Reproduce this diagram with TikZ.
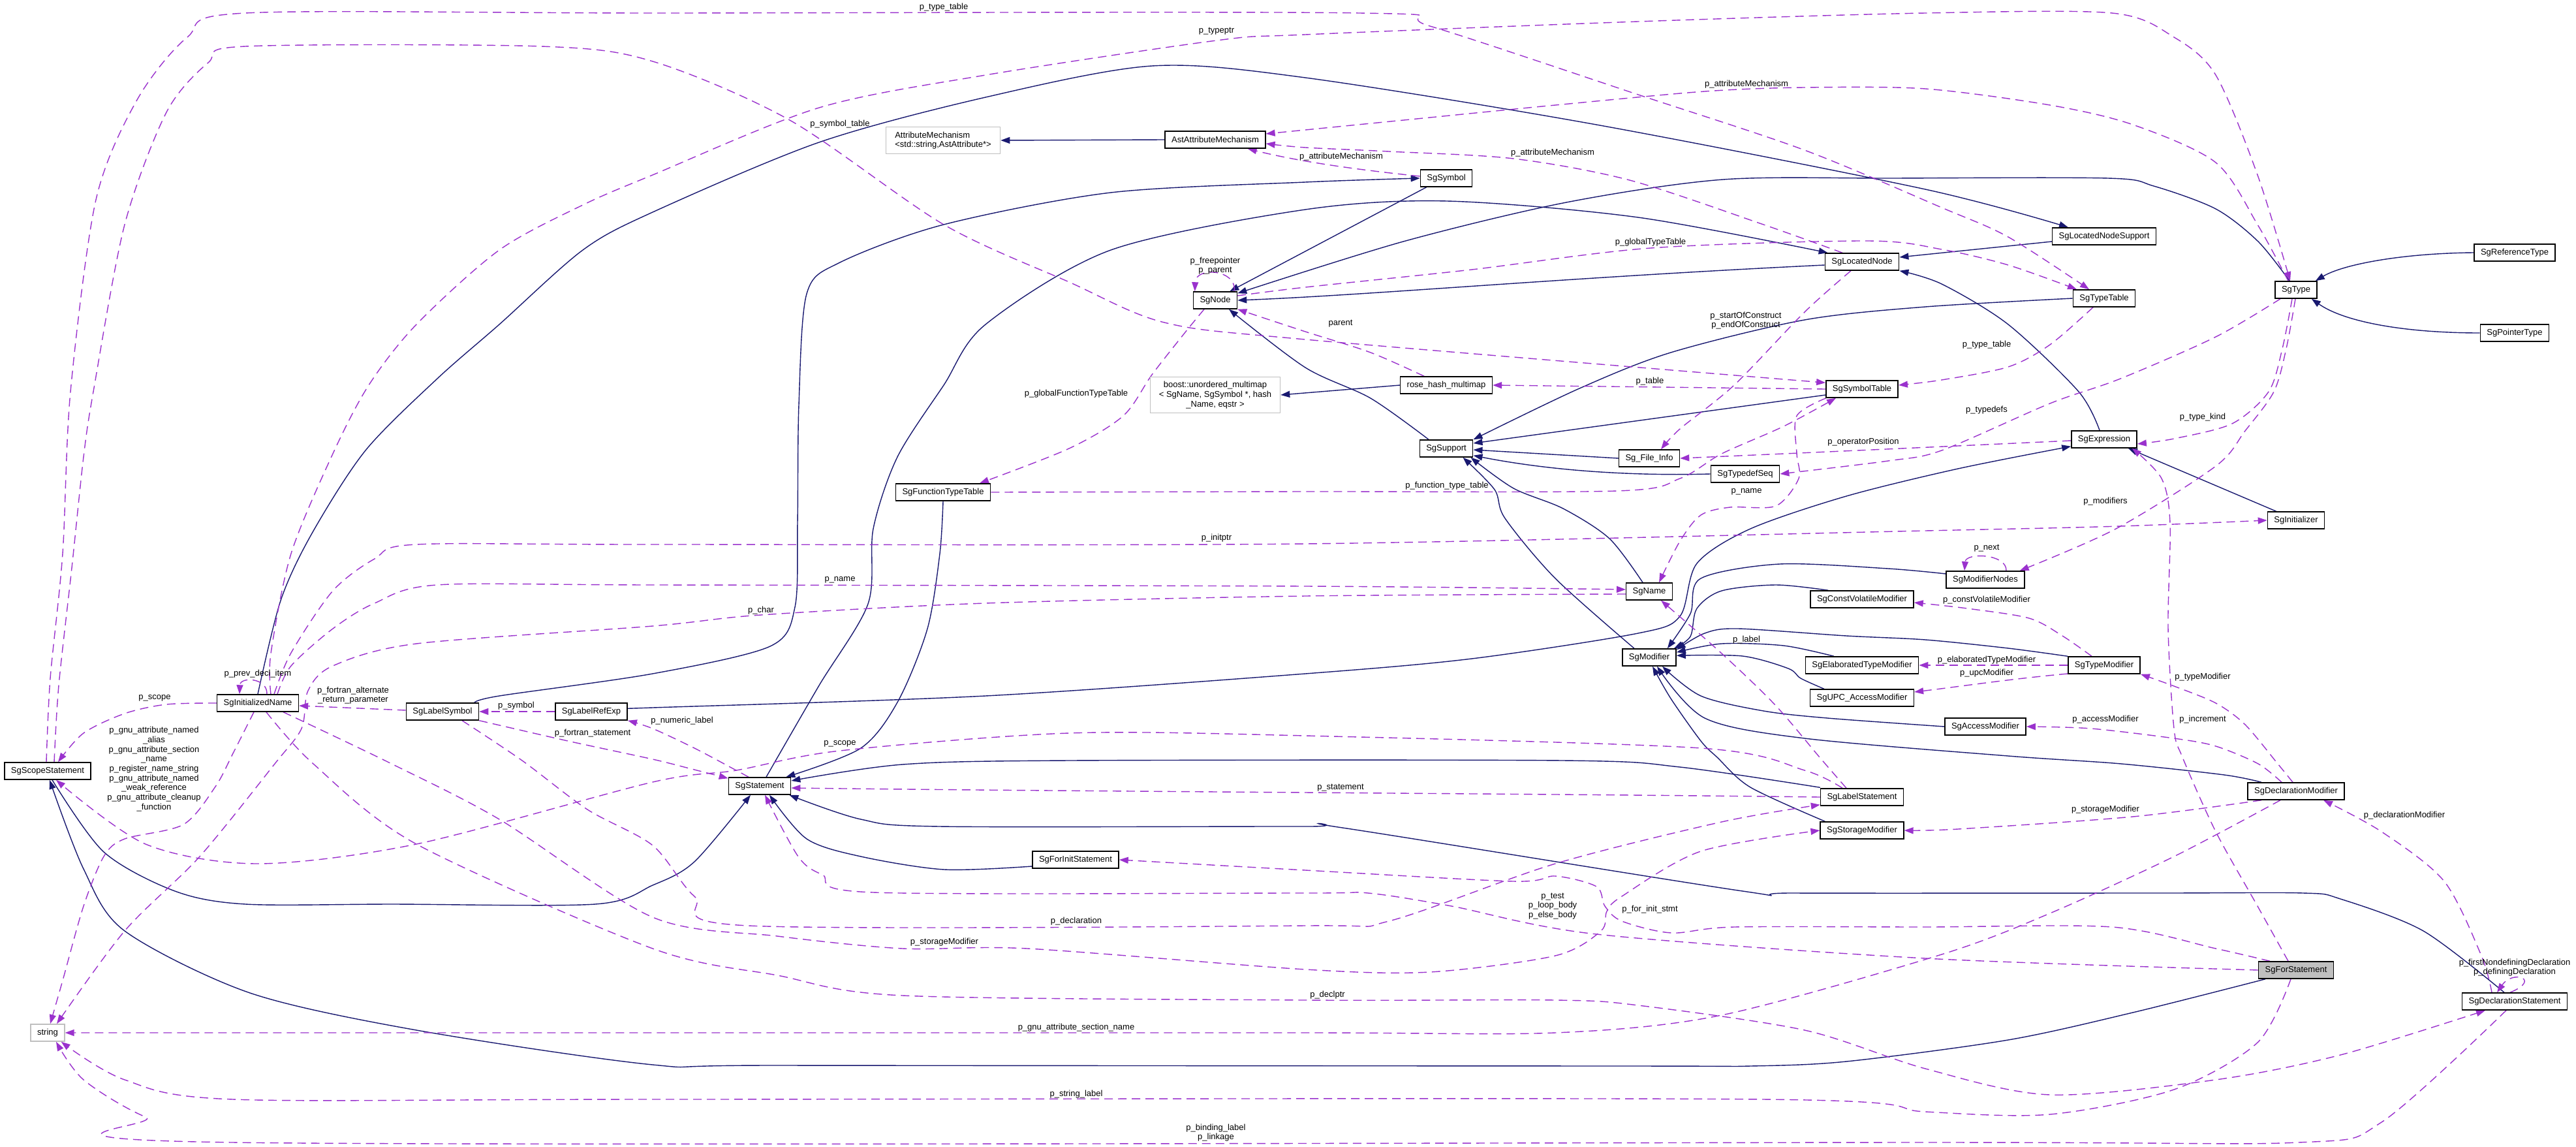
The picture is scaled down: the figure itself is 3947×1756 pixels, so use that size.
\documentclass[tikz,border=0pt]{standalone}
\usepackage{fontspec}
\setmainfont{Liberation Sans}
\usetikzlibrary{arrows.meta}
\definecolor{inhcol}{HTML}{191970}
\definecolor{depcol}{HTML}{9A32CD}
\definecolor{greyb}{HTML}{BFBFBF}
\newcommand\lbfont{\fontsize{13}{14.7}\selectfont}
\pgfdeclarelayer{bg}
\pgfsetlayers{bg,main}
\begin{document}
\begin{tikzpicture}[x=1pt,y=-1pt,
 cls/.style={draw=black, line width=1.5pt, fill=white, minimum height=26pt, inner xsep=10pt, inner ysep=2pt, font=\lbfont},
 ext/.style={cls, draw=greyb},
 lbl/.style={font=\lbfont, align=center, inner sep=0pt},
 inh/.style={draw=inhcol, line width=1.4pt, -{Triangle[length=14pt,width=10pt]}},
 dep/.style={draw=depcol, line width=1.4pt, dash pattern=on 13pt off 8pt, -{Triangle[length=14pt,width=10pt]}}]
\useasboundingbox (0,0) rectangle (3947,1756);
% ---------- nodes ----------
\node[ext, align=left, minimum height=41pt, minimum width=175pt] (attmech) at (1445,215) {AttributeMechanism\\<std::string,AstAttribute*>};
\node[cls] (astatt) at (1862,214) {AstAttributeMechanism};
\node[cls] (sgsymbol) at (2216,273) {SgSymbol};
\node[cls] (sgnode) at (1862,460) {SgNode};
\node[cls] (sglocated) at (2853,401) {SgLocatedNode};
\node[cls] (sglns) at (3224,362) {SgLocatedNodeSupport};
\node[cls] (sgtypetable) at (3224,457) {SgTypeTable};
\node[cls] (sgtype) at (3518,444) {SgType};
\node[cls] (sgreftype) at (3853,387) {SgReferenceType};
\node[cls] (sgptrtype) at (3853,510) {SgPointerType};
\node[ext, align=center, minimum height=55pt, minimum width=199pt, inner ysep=1pt] (boost) at (1862,605) {boost::unordered\_multimap\\< SgName, SgSymbol *, hash\\\_Name, eqstr >};
\node[cls] (rosehash) at (2216,590) {rose\_hash\_multimap};
\node[cls] (sgsymtab) at (2853,596) {SgSymbolTable};
\node[cls] (sgsupport) at (2216,687) {SgSupport};
\node[cls] (sgfileinfo) at (2527,702) {Sg\_File\_Info};
\node[cls] (sgtypedefseq) at (2674,726) {SgTypedefSeq};
\node[cls] (sgexpr) at (3224,673) {SgExpression};
\node[cls] (sgfunctt) at (1445,754) {SgFunctionTypeTable};
\node[cls] (sginitializer) at (3518,797) {SgInitializer};
\node[cls] (sgname) at (2527,906) {SgName};
\node[cls] (sgmodnodes) at (3042,888) {SgModifierNodes};
\node[cls] (sgcvmod) at (2853,918) {SgConstVolatileModifier};
\node[cls] (sgmodifier) at (2527,1007) {SgModifier};
\node[cls] (sgelabmod) at (2853,1019) {SgElaboratedTypeModifier};
\node[cls] (sgtypemod) at (3224,1019) {SgTypeModifier};
\node[cls] (sgupcmod) at (2853,1069) {SgUPC\_AccessModifier};
\node[cls] (sgaccessmod) at (3042,1113) {SgAccessModifier};
\node[cls] (sginitname) at (395,1077) {SgInitializedName};
\node[cls] (sglabelsym) at (678,1090) {SgLabelSymbol};
\node[cls] (sglabelref) at (906,1090) {SgLabelRefExp};
\node[cls] (sgscope) at (73,1181) {SgScopeStatement};
\node[cls] (sgstatement) at (1164,1204) {SgStatement};
\node[cls] (sglabelstmt) at (2853,1221) {SgLabelStatement};
\node[cls] (sgdeclmod) at (3518,1212) {SgDeclarationModifier};
\node[cls] (sgstoragemod) at (2853,1272) {SgStorageModifier};
\node[cls] (sgforinit) at (1648,1317) {SgForInitStatement};
\node[cls, fill=greyb] (sgfor) at (3518,1486) {SgForStatement};
\node[cls] (sgdeclstmt) at (3853,1534) {SgDeclarationStatement};
\node[ext] (string) at (73,1582) {string};
% ---------- labels ----------
\node[lbl] (l01) at (1446,11) {p\_type\_table};
\node[lbl] (l02) at (1287,190) {p\_symbol\_table};
\node[lbl] (l03) at (1864,48) {p\_typeptr};
\node[lbl] (l04) at (2676,129) {p\_attributeMechanism};
\node[lbl] (l05) at (2055,240) {p\_attributeMechanism};
\node[lbl] (l06) at (2379,234) {p\_attributeMechanism};
\node[lbl] (l07) at (1862,407) {p\_freepointer\\p\_parent};
\node[lbl] (l08) at (2529,371) {p\_globalTypeTable};
\node[lbl] (l09) at (1649,603) {p\_globalFunctionTypeTable};
\node[lbl] (l10) at (2054,496) {parent};
\node[lbl] (l11) at (2528,584) {p\_table};
\node[lbl] (l12) at (2675,491) {p\_startOfConstruct\\p\_endOfConstruct};
\node[lbl] (l13) at (3044,528) {p\_type\_table};
\node[lbl] (l14) at (3044,628) {p\_typedefs};
\node[lbl] (l15) at (2855,677) {p\_operatorPosition};
\node[lbl] (l16) at (3375,639) {p\_type\_kind};
\node[lbl] (l17) at (3226,768) {p\_modifiers};
\node[lbl] (l18) at (3044,840) {p\_next};
\node[lbl] (l19) at (2217,744) {p\_function\_type\_table};
\node[lbl] (l20) at (2676,753) {p\_name};
\node[lbl] (l21) at (1864,824) {p\_initptr};
\node[lbl] (l22) at (1287,888) {p\_name};
\node[lbl] (l23) at (1166,935) {p\_char};
\node[lbl] (l24) at (2676,980) {p\_label};
\node[lbl] (l25) at (3044,919) {p\_constVolatileModifier};
\node[lbl] (l26) at (3044,1011) {p\_elaboratedTypeModifier};
\node[lbl] (l27) at (3044,1031) {p\_upcModifier};
\node[lbl] (l28) at (3375,1037) {p\_typeModifier};
\node[lbl] (l29) at (3226,1102) {p\_accessModifier};
\node[lbl] (l30) at (3375,1102) {p\_increment};
\node[lbl] (l31) at (395,1032) {p\_prev\_decl\_item};
\node[lbl] (l32) at (237,1069) {p\_scope};
\node[lbl] (l33) at (236,1178) {p\_gnu\_attribute\_named\\\_alias\\p\_gnu\_attribute\_section\\\_name\\p\_register\_name\_string\\p\_gnu\_attribute\_named\\\_weak\_reference\\p\_gnu\_attribute\_cleanup\\\_function};
\node[lbl] (l34) at (541,1065) {p\_fortran\_alternate\\\_return\_parameter};
\node[lbl] (l35) at (791,1081) {p\_symbol};
\node[lbl] (l36) at (908,1123) {p\_fortran\_statement};
\node[lbl] (l37) at (1045,1104) {p\_numeric\_label};
\node[lbl] (l38) at (1287,1139) {p\_scope};
\node[lbl] (l39) at (2054,1207) {p\_statement};
\node[lbl] (l40) at (2528,1393) {p\_for\_init\_stmt};
\node[lbl] (l41) at (2379,1388) {p\_test\\p\_loop\_body\\p\_else\_body};
\node[lbl] (l42) at (1649,1411) {p\_declaration};
\node[lbl] (l43) at (1447,1443) {p\_storageModifier};
\node[lbl] (l44) at (3226,1240) {p\_storageModifier};
\node[lbl] (l45) at (2034,1524) {p\_declptr};
\node[lbl] (l46) at (1649,1574) {p\_gnu\_attribute\_section\_name};
\node[lbl] (l47) at (1649,1676) {p\_string\_label};
\node[lbl] (l48) at (1863,1735) {p\_binding\_label\\p\_linkage};
\node[lbl] (l49) at (3684,1249) {p\_declarationModifier};
\node[lbl] (l50) at (3853,1482) {p\_firstNondefiningDeclaration\\p\_definingDeclaration};
\begin{pgfonlayer}{bg}
% ---------- inheritance ----------
\draw[inh] (astatt.west) -- (attmech.east);
\draw[inh] ([xshift=10pt]sgsymbol.south west) -- ([xshift=-12pt]sgnode.north east);
\draw[inh] ([yshift=-5pt]sglocated.west) .. controls (2400,425) and (2100,452) .. (sgnode.east);
\draw[inh] plot[smooth] coordinates {([xshift=-10pt]sgtype.north) (3460,370) (3395,320) (3300,285) (3230,273) (2900,273) (2640,275) (2400,310) (2150,370) ([yshift=-3pt]sgnode.north east)};
\draw[inh] plot[smooth] coordinates {([xshift=-27pt]sgsupport.north) (2100,610) (2000,563) ([xshift=21pt]sgnode.south)};
\draw[inh] ([yshift=-8pt]sglns.west) -- ([yshift=7pt]sglocated.east);
\draw[inh] plot[smooth] coordinates {(sginitname.north) (430,920) (478,817) (560,690) (670,580) (765,497) (893,383) (1000,325) (1255,218) (1510,149) (1765,101) (2000,119) (2446,191) (2950,290) ([xshift=-55pt]sglns.north)};
\draw[inh] plot[smooth] coordinates {([xshift=49pt]sglabelsym.north) (765,1066) (1000,1032) (1180,990) (1218,930) (1222,800) (1224,620) (1236,450) (1287,402) (1446,344) (1702,295) (2000,279) (sgsymbol.west)};
\draw[inh] plot[smooth] coordinates {([xshift=10pt]sgstatement.north) (1255,1050) (1330,925) (1338,810) (1375,700) (1446,590) (1510,497) (1702,383) (2000,321) (2217,308) (2510,333) ([xshift=5pt]sglocated.north west)};
\draw[inh] plot[smooth] coordinates {([xshift=-7pt]sgexpr.north) (3185,600) (3077,497) (2975,435) (sglocated.south east)};
\draw[inh] ([xshift=14pt]sginitializer.north west) -- ([xshift=-14pt]sgexpr.south east);
\draw[inh] (sgreftype.west) .. controls (3680,388) and (3590,405) .. ([xshift=-3pt]sgtype.north east);
\draw[inh] (sgptrtype.west) .. controls (3680,510) and (3590,492) .. ([xshift=-9pt]sgtype.south east);
\draw[inh] (rosehash.west) -- (boost.east);
\draw[inh] ([yshift=-9pt]sgsymtab.west) -- ([yshift=8pt]sgsupport.east);
\draw[inh] (sgfileinfo.west) -- ([yshift=-2pt]sgsupport.east);
\draw[inh] (sgtypedefseq.west) .. controls (2470,730) and (2350,716) .. ([yshift=3pt]sgsupport.south east);
\draw[inh] plot[smooth] coordinates {([xshift=-10pt]sgname.north) (2466,825) (2395,779) (2319,748) ([xshift=-4pt]sgsupport.south east)};
\draw[inh] plot[smooth] coordinates {([xshift=-23pt]sgmodifier.north) (2383,886) (2306,794) (2290,750) ([xshift=-16pt]sgsupport.south east)};
\draw[inh] plot[smooth] coordinates {(sgtypetable.west) (2950,470) (2765,490) (2560,540) (2420,595) (sgsupport.north east)};
\draw[inh] plot[smooth] coordinates {(sgfunctt.south) (1440,848) (1421,963) (1376,1074) (1319,1146) ([xshift=-8pt]sgstatement.north east)};
\draw[inh] plot[smooth] coordinates {([xshift=7pt]sgscope.south) (159,1305) (268,1365) (376,1385) (600,1385) (912,1385) (1000,1356) (1064,1320) ([xshift=-14pt]sgstatement.south)};
\draw[inh] plot[smooth] coordinates {([xshift=-47pt]sgfor.south) (3268,1551) (3077,1593) (2829,1626) (2682,1633) (2500,1633) (1200,1632) (1000,1631) (638,1578) (383,1521) (191,1426) (128,1331) ([xshift=3pt]sgscope.south)};
\draw[inh] plot[smooth] coordinates {([xshift=-16pt]sgdeclstmt.north) (3713,1426) (3586,1377) (3529,1368) (3300,1368) (2750,1368) (2670,1365) (2057,1268) (2000,1266) (1440,1266) (1319,1255) ([xshift=-3pt]sgstatement.south east)};
\draw[inh] plot[smooth] coordinates {([yshift=1pt]sglabelstmt.north west) (2574,1175) (2395,1165) (1638,1165) (1383,1171) ([yshift=8pt]sgstatement.east)};
\draw[inh] plot[smooth] coordinates {([yshift=-10pt]sgforinit.west) (1447,1332) (1319,1312) (1236,1285) ([xshift=15pt]sgstatement.south)};
\draw[inh] plot[smooth] coordinates {([yshift=5pt]sglabelref.east) (1000,1084) (1510,1066) (2000,1032) (2255,1009) (2510,970) (2574,944) (2600,863) (2682,810) (2829,760) (3000,718) ([yshift=3pt]sgexpr.south west)};
\draw[inh] plot[smooth] coordinates {([yshift=9pt]sgmodnodes.west) (2893,871) (2727,864) (2606,886) (2590,940) ([xshift=-14pt]sgmodifier.north east)};
\draw[inh] plot[smooth] coordinates {([xshift=28pt]sgcvmod.north west) (2721,896) (2638,905) (2600,932) (2590,975) ([xshift=-4pt]sgmodifier.north east)};
\draw[inh] plot[smooth] coordinates {(sgtypemod.north west) (3077,993) (2950,980) (2829,974) (2663,963) (2612,970) ([yshift=-2pt]sgmodifier.north east)};
\draw[inh] plot[smooth] coordinates {([xshift=-43pt]sgelabmod.north) (2733,989) (2638,986) ([yshift=-6pt]sgmodifier.north east)};
\draw[inh] plot[smooth] coordinates {([xshift=22pt]sgupcmod.north west) (2759,1039) (2740,1024) (2670,1005) ([yshift=-11pt]sgmodifier.north east)};
\draw[inh] plot[smooth] coordinates {(sgaccessmod.west) (2800,1100) (2702,1089) (2606,1066) ([xshift=20pt]sgmodifier.south)};
\draw[inh] plot[smooth] coordinates {([xshift=-53pt]sgdeclmod.north) (3408,1187) (3250,1170) (3077,1158) (2765,1131) (2612,1100) ([xshift=12pt]sgmodifier.south)};
\draw[inh] plot[smooth] coordinates {([xshift=8pt]sgstoragemod.north west) (2682,1206) (2631,1160) (2606,1135) (2560,1070) ([xshift=5pt]sgmodifier.south)};
% ---------- collaboration ----------
\draw[dep] plot[smooth] coordinates {([xshift=-2pt]sgscope.north) (77,1039) (96,848) (108,600) (147,306) (210,153) (287,57) (376,20) (1000,20) (2083,20) (2191,40) (2510,145) (2765,230) (2975,318) (3077,363) ([xshift=-23pt]sgtypetable.north)};
\draw[dep] plot[smooth] coordinates {([xshift=10pt]sgscope.north) (90,1050) (110,870) (128,700) (143,600) (191,344) (255,172) (319,96) (376,71) (829,71) (1000,94) (1210,184) (1446,344) (1638,432) (1784,494) (2000,520) ([yshift=-4pt]sgsymtab.north west)};
\draw[dep] plot[smooth] coordinates {([xshift=20pt]sginitname.north) (415,1001) (446,848) (510,695) (565,590) (638,497) (765,383) (893,314) (1000,268) (1255,165) (1510,115) (1864,62) (2000,53) (2510,33) (2950,20) (3236,20) (3331,57) (3395,115) (3459,268) ([xshift=-9pt]sgtype.north)};
\draw[dep] plot[smooth] coordinates {([xshift=-12pt]sgtype.north) (3459,344) (3395,249) (3268,191) (3141,161) (2950,136) (2765,134) (2612,140) (2383,161) (2191,180) (2000,199) ([yshift=9pt]astatt.east)};
\draw[dep] ([yshift=3pt]sgsymbol.west) .. controls (2100,262) and (2000,250) .. ([xshift=-28pt]astatt.south east);
\draw[dep] plot[smooth] coordinates {([xshift=-30pt]sglocated.north) (2702,344) (2497,276) (2319,243) (2128,232) (2000,226) ([yshift=-6pt]astatt.east)};
\draw[dep] ([xshift=-5pt]sgnode.north east) .. controls (1895,412) and (1832,408) .. ([xshift=3pt]sgnode.north west);
\draw[dep] plot[smooth] coordinates {([yshift=7pt]sgnode.east) (2000,440) (2255,413) (2529,380) (2861,369) (2975,382) (3077,406) ([xshift=-42pt]sgtypetable.north)};
\draw[dep] plot[smooth] coordinates {([xshift=-17pt]sgnode.south) (1816,509) (1765,574) (1721,637) (1638,687) ([xshift=56pt]sgfunctt.north)};
\draw[dep] plot[smooth] coordinates {([xshift=-34pt]rosehash.north) (2100,540) (2000,508) (sgnode.south east)};
\draw[dep] (sgsymtab.west) -- (rosehash.east);
\draw[dep] plot[smooth] coordinates {([xshift=-17pt]sglocated.south) (2765,478) (2657,590) (2574,657) ([xshift=18pt]sgfileinfo.north)};
\draw[dep] plot[smooth] coordinates {([xshift=-17pt]sgtypetable.south) (3141,528) (3077,562) (2975,582) ([yshift=6pt]sgsymtab.east)};
\draw[dep] plot[smooth] coordinates {([xshift=-24pt]sgtype.south) (3395,516) (3249,580) (3141,618) (2975,690) (2893,706) (sgtypedefseq.east)};
\draw[dep] ([yshift=-2pt]sgexpr.west) .. controls (3000,683) and (2850,690) .. (sgfileinfo.east);
\draw[dep] plot[smooth] coordinates {([xshift=-6pt]sgtype.south) (3497,534) (3476,600) (3420,649) (3331,672) ([yshift=-7pt]sgexpr.east)};
\draw[dep] plot[smooth] coordinates {([xshift=-1pt]sgtype.south) (3503,534) (3484,600) (3440,660) (3395,714) (3242,810) ([xshift=-8pt]sgmodnodes.north east)};
\draw[dep] ([xshift=32pt]sgmodnodes.north) .. controls (3075,848) and (3012,846) .. ([xshift=-32pt]sgmodnodes.north);
\draw[dep] plot[smooth] coordinates {(sgfunctt.east) (2000,753) (2478,752) (2574,733) (2638,695) (2733,653) ([xshift=-40pt]sgsymtab.south)};
\draw[dep] plot[smooth] coordinates {([xshift=-55pt]sgsymtab.south) (2753,637) (2753,695) (2756,733) (2721,775) (2651,777) (2606,789) (2574,829) ([xshift=15pt]sgname.north)};
\draw[dep] plot[smooth] coordinates {([xshift=25pt]sginitname.north) (446,1000) (510,905) (574,856) (638,834) (1000,834) (2000,833) (2950,813) (3249,806) (sginitializer.west)};
\draw[dep] plot[smooth] coordinates {([xshift=30pt]sginitname.north) (446,1020) (510,963) (574,924) (670,896) (1000,896) (2000,898) ([yshift=3pt]sgname.west)};
\draw[dep] plot[smooth] coordinates {([yshift=-4pt]sgname.west) (2000,913) (1510,924) (1166,942) (1000,959) (638,986) (510,1020) (472,1058) (462,1116) (421,1170) (306,1312) (191,1426) ([xshift=14pt]string.north)};
\draw[dep] plot[smooth] coordinates {([xshift=-24pt]sglabelstmt.north) (2788,1160) (2720,1080) (2638,1001) ([xshift=18pt]sgname.south)};
\draw[dep] plot[smooth] coordinates {([xshift=-19pt]sgtypemod.north) (3160,974) (3109,947) (3014,932) ([yshift=-5pt]sgcvmod.east)};
\draw[dep] (sgtypemod.west) -- (sgelabmod.east);
\draw[dep] ([yshift=-13pt]sgtypemod.west) .. controls (3080,1040) and (3000,1052) .. ([yshift=9pt]sgupcmod.east);
\draw[dep] plot[smooth] coordinates {([xshift=-5pt]sgdeclmod.north) (3490,1170) (3440,1110) (3395,1077) (3331,1051) (sgtypemod.south east)};
\draw[dep] plot[smooth] coordinates {([xshift=-22pt]sgdeclmod.north) (3460,1170) (3395,1143) (3331,1131) (3204,1116) (sgaccessmod.east)};
\draw[dep] plot[smooth] coordinates {([xshift=-12pt]sgfor.north) (3459,1388) (3395,1274) (3344,1160) (3331,1116) (3322,963) (3325,802) (3312,733) ([xshift=-8pt]sgexpr.south east)};
\draw[dep] ([xshift=14pt]sginitname.north) .. controls (410,1038) and (368,1036) .. ([xshift=-28pt]sginitname.north);
\draw[dep] plot[smooth] coordinates {(sginitname.west) (255,1079) (191,1093) (128,1123) ([xshift=16pt]sgscope.north)};
\draw[dep] plot[smooth] coordinates {([xshift=-6pt]sginitname.south) (357,1154) (330,1205) (281,1263) (191,1285) (159,1312) (128,1388) (96,1502) ([xshift=4pt]string.north)};
\draw[dep] ([yshift=2pt]sglabelsym.west) -- ([yshift=-4pt]sginitname.east);
\draw[dep] (sglabelref.west) -- (sglabelsym.east);
\draw[dep] plot[smooth] coordinates {(sglabelsym.south east) (870,1135) (1000,1163) (1060,1178) ([yshift=-2pt]sgstatement.north west)};
\draw[dep] plot[smooth] coordinates {([xshift=-17pt]sgstatement.north) (1128,1180) (1064,1146) (1000,1116) (sglabelref.south east)};
\draw[dep] plot[smooth] coordinates {([xshift=-30pt]sglabelstmt.north) (2765,1180) (2606,1146) (2000,1127) (1638,1123) (1287,1150) (1128,1180) (1000,1198) (638,1293) (395,1323) (223,1293) ([xshift=13pt]sgscope.south)};
\draw[dep] (sglabelstmt.west) .. controls (2400,1216) and (1600,1212) .. ([yshift=-3pt]sgstatement.east);
\draw[dep] plot[smooth] coordinates {([xshift=-40pt]sgfor.north) (3395,1453) (3236,1420) (2950,1420) (2657,1420) (2561,1429) (2485,1411) (2459,1388) (2446,1358) (2383,1342) (2319,1350) (2000,1333) (sgforinit.east)};
\draw[dep] plot[smooth] coordinates {(sgfor.west) (2950,1468) (2446,1431) (2224,1388) (2096,1368) (2000,1368) (1338,1367) (1260,1340) (1223,1312) ([xshift=8pt]sgstatement.south)};
\draw[dep] plot[smooth] coordinates {([xshift=30pt]sglabelsym.south) (800,1165) (900,1240) (1000,1295) (1064,1373) (1147,1418) (2000,1418) (2128,1411) (2383,1323) (2638,1259) ([yshift=2pt]sglabelstmt.south west)};
\draw[dep] plot[smooth] coordinates {([xshift=39pt]sginitname.south) (600,1170) (765,1255) (1000,1405) (1191,1434) (1383,1453) (1574,1453) (2000,1485) (2191,1489) (2383,1464) (2453,1426) (2462,1396) (2485,1373) (2606,1304) (sgstoragemod.west)};
\draw[dep] plot[smooth] coordinates {([xshift=-53pt]sgdeclmod.south) (3268,1251) (3000,1270) (sgstoragemod.east)};
\draw[dep] plot[smooth] coordinates {([xshift=13pt]sginitname.south) (480,1170) (638,1293) (1000,1453) (1191,1494) (1383,1525) (2000,1532) (2383,1532) (2510,1540) (2765,1578) (2950,1637) (3141,1677) (3395,1654) (3586,1616) ([xshift=-45pt]sgdeclstmt.south)};
\draw[dep] plot[smooth] coordinates {([xshift=-24pt]sgdeclmod.south) (3331,1312) (3141,1399) (2975,1462) (2638,1555) (2383,1582) (2000,1582) (1000,1582) (string.east)};
\draw[dep] plot[smooth] coordinates {([xshift=-8pt]sgfor.south) (3459,1597) (3331,1669) (3141,1707) (2950,1703) (2702,1684) (1000,1684) (357,1684) (191,1654) ([xshift=-6pt]string.south east)};
\draw[dep] plot[smooth] coordinates {([xshift=-13pt]sgdeclstmt.south) (3649,1719) (3522,1750) (2950,1750) (357,1750) (223,1711) (128,1654) ([xshift=13pt]string.south)};
\draw[dep] plot[smooth] coordinates {([xshift=-35pt]sgdeclstmt.north) (3802,1464) (3745,1350) (3649,1274) ([xshift=42pt]sgdeclmod.south)};
\draw[dep] ([xshift=-7pt]sgdeclstmt.north) .. controls (3895,1500) and (3850,1485) .. ([xshift=-27pt]sgdeclstmt.north);
\end{pgfonlayer}
\end{tikzpicture}
\end{document}
